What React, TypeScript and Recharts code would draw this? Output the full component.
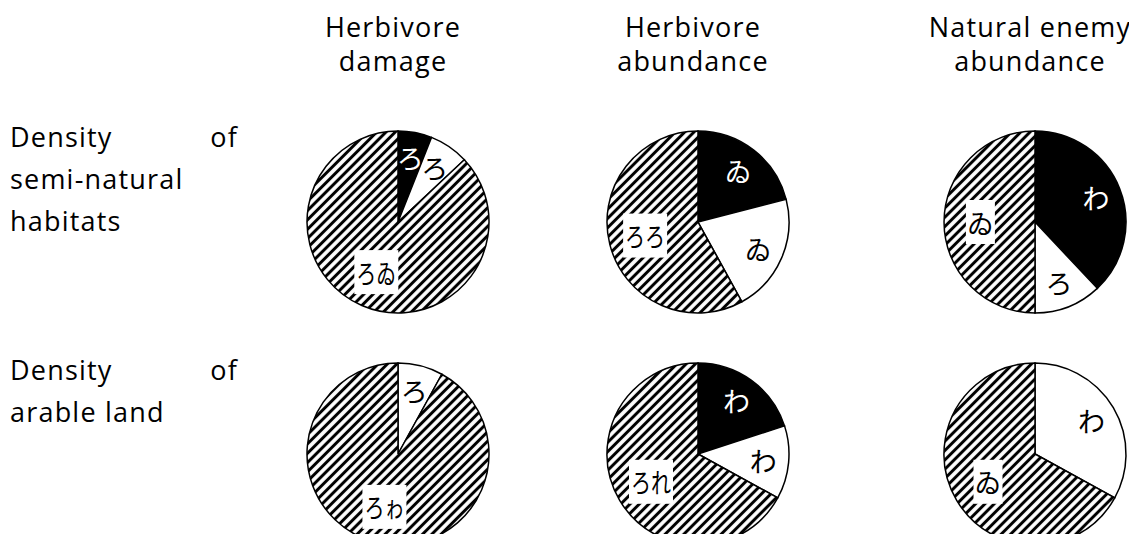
import { Cell, Pie, PieChart } from "recharts";

const columnTitles = [
  ["Herbivore", "damage"],
  ["Herbivore", "abundance"],
  ["Natural enemy", "abundance"],
];
// first line of each row title is justified across the column
const rowTitles = [
  [["Density", "of"], "semi-natural", "habitats"],
  [["Density", "of"], "arable land"],
];

// slice order: black, white, hatched (clockwise from 12 o'clock)
const kinds = ["black", "white", "hatched"];

const damageSemi = [6, 7, 87];
const damageSemiText = ["ろ", "ろ", "ろゐ"];
const abundSemi = [21, 21, 58];
const abundSemiText = ["ゐ", "ゐ", "ろろ"];
const enemySemi = [38, 12, 50];
const enemySemiText = ["わ", "ろ", "ゐ"];

const damageArable = [0, 8, 92];
const damageArableText = ["", "ろ", "ろゎ"];
const abundArable = [20, 13, 67];
const abundArableText = ["わ", "わ", "ろれ"];
const enemyArable = [0, 33, 67];
const enemyArableText = ["", "わ", "ゐ"];

const FONT = "'Open Sans', 'Noto Sans', sans-serif";
const CJK = "'Noto Sans CJK JP', 'Noto Sans', sans-serif";

const COL_X = [393, 693, 1030];
const ROW_Y = [217, 449];
const R = 91;

function build(values: number[], texts: string[]) {
  return values
    .map((v, i) => ({ kind: kinds[i], value: v, text: texts[i] }))
    .filter((d) => d.value > 0);
}

const pies = [
  [build(damageSemi, damageSemiText), build(abundSemi, abundSemiText), build(enemySemi, enemySemiText)],
  [build(damageArable, damageArableText), build(abundArable, abundArableText), build(enemyArable, enemyArableText)],
];

const fillFor = (kind: string) =>
  kind === "black" ? "#000" : kind === "white" ? "#fff" : "url(#hatch)";

const RAD = Math.PI / 180;

function renderLabel(props: any) {
  const { cx, cy, midAngle, outerRadius, payload } = props;
  const d = payload?.payload ?? payload;
  const kind = d.kind;
  const text: string = d.text;
  const hatched = kind === "hatched";
  const r = outerRadius * (hatched ? 0.6 : 0.72);
  const x = cx + r * Math.cos(-midAngle * RAD);
  const y = cy + r * Math.sin(-midAngle * RAD);
  const n = text.length;
  const w = 14 + 15 * n;
  return (
    <g>
      {hatched && <rect x={x - w / 2} y={y - 22} width={w} height={44} fill="#fff" />}
      <text
        x={x}
        y={y}
        textAnchor="middle"
        dominantBaseline="central"
        fontSize={27}
        fontFamily={CJK}
        fill={kind === "black" ? "#fff" : "#000"}
        {...(n > 1 ? { textLength: w - 4, lengthAdjust: "spacingAndGlyphs" } : {})}
      >
        {text}
      </text>
    </g>
  );
}

const textStyle = {
  position: "absolute" as const,
  fontFamily: FONT,
  fontSize: 27,
  letterSpacing: 1.2,
  color: "#000",
};

export default function App() {
  return (
    <div style={{ position: "relative", width: 1137, height: 542, margin: -8, background: "#fff", overflow: "hidden" }}>
      {columnTitles.map((lines, i) => (
        <div
          key={i}
          style={{ ...textStyle, left: COL_X[i] - 120, width: 240, top: 10, lineHeight: "34px", textAlign: "center" }}
        >
          {lines[0]}
          <br />
          {lines[1]}
        </div>
      ))}
      {rowTitles.map((lines, i) => (
        <div
          key={i}
          style={{ ...textStyle, left: 10, width: 228, top: i === 0 ? 116 : 349, lineHeight: "42px" }}
        >
          {lines.map((ln, j) =>
            Array.isArray(ln) ? (
              <div key={j} style={{ display: "flex", justifyContent: "space-between" }}>
                {ln.map((w) => (
                  <span key={w}>{w}</span>
                ))}
              </div>
            ) : (
              <div key={j}>{ln}</div>
            )
          )}
        </div>
      ))}
      <div style={{ position: "absolute", left: 0, top: 0 }}>
        <PieChart width={1137} height={542}>
          <defs>
            <pattern id="hatch" width="6.6" height="6.6" patternUnits="userSpaceOnUse" patternTransform="rotate(45)">
              <rect width="6.6" height="6.6" fill="#fff" />
              <line x1="3.3" y1="0" x2="3.3" y2="6.6" stroke="#000" strokeWidth="3" />
            </pattern>
          </defs>
          {pies.map((row, ri) =>
            row.map((data, ci) => (
              <Pie
                key={`${ri}-${ci}`}
                data={data}
                dataKey="value"
                nameKey="kind"
                cx={COL_X[ci]}
                cy={ROW_Y[ri]}
                outerRadius={R}
                startAngle={90}
                endAngle={-270}
                stroke="#000"
                strokeWidth={1.5}
                label={renderLabel}
                labelLine={false}
                isAnimationActive={false}
              >
                {data.map((d, i) => (
                  <Cell key={i} fill={fillFor(d.kind)} />
                ))}
              </Pie>
            ))
          )}
        </PieChart>
      </div>
    </div>
  );
}
